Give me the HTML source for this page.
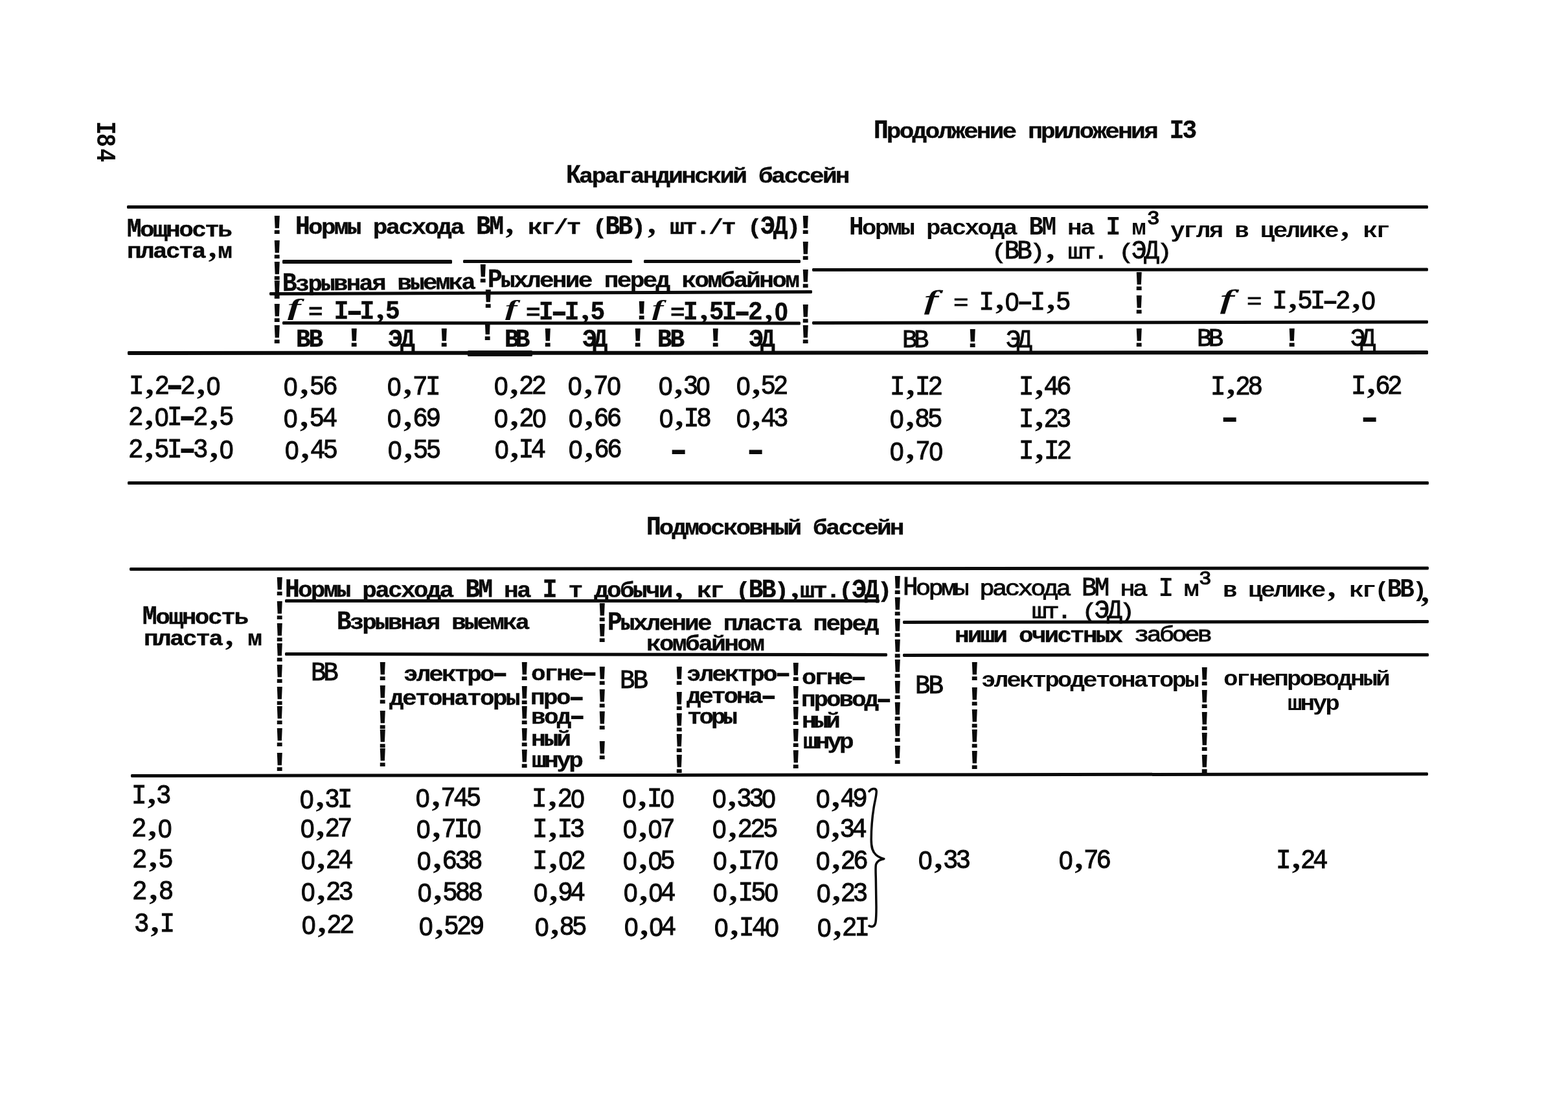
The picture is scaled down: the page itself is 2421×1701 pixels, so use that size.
<!DOCTYPE html>
<html lang="ru"><head><meta charset="utf-8"><title>Продолжение приложения 13</title>
<style>
html,body{margin:0;padding:0;background:#fff}
body{width:2421px;height:1701px;position:relative;overflow:hidden}
.t{position:absolute;white-space:pre;font-family:"Liberation Mono",monospace;font-size:36px;line-height:1;color:#0a0a0a;-webkit-text-stroke-color:#0a0a0a;font-weight:400;--ky:1.17;--sx:1.09;--rot:0deg;transform:rotate(var(--rot)) scaleX(var(--sx));transform-origin:0 76.61%}
.b{font-weight:700}
.u,.z,.k{display:inline-block;transform-origin:50% 76.61%}
.u,.z{transform:scaleY(var(--ky))}
.z,.k{width:var(--p);letter-spacing:0;line-height:0}
.z{font-family:"Liberation Sans",sans-serif;font-size:0.985em;text-indent:0.0265em}
.b .z{text-indent:0.0273em}
.k{font-family:"Liberation Serif",serif;font-weight:700;font-size:1.36em;text-indent:0.1081em;position:relative;top:-0.5px;-webkit-text-stroke-width:0}
.h{display:inline-block;width:var(--p);letter-spacing:0;font-weight:700;position:relative;top:-1.4px;transform:scale(1.8,1.55);transform-origin:0.3em 0.507em;-webkit-text-stroke-width:0}
.h2 .h{transform:scale(1.75,1.3);top:-0.5px}
.m .h{transform:scale(1.7,1.15);top:-0.5px}
.e{font-size:43px;--sx:1.3}
.f{font-family:"Liberation Serif",serif;font-style:italic}
.t.pg{transform:rotate(90deg);transform-origin:50% 50%}
.r{position:absolute;background:#0a0a0a;border-radius:1.5px}
</style></head>
<body>
<div class="t b pg" style="left:127.7px;top:199px;width:60px;height:36px;text-align:center;letter-spacing:2.2px;font-size:35px;--ky:1.2"><span class="u"><span style="letter-spacing:-2px">I</span>84</span></div>
<div class="t b" style="left:1349.08px;top:186.95px;letter-spacing:-2.518px;--p:17.885px;font-size:34px;--ky:1.2;--sx:1.11;-webkit-text-stroke-width:0.4px"><span class="u">П</span>родолжение приложения <span class="u">I3</span></div>
<div class="t b" style="left:874.28px;top:256.15px;letter-spacing:-2.570px;--p:17.833px;font-size:34px;--ky:1.2;--sx:1.11;-webkit-text-stroke-width:0.4px"><span class="u">К</span>арагандинский бассейн</div>
<div class="t b" style="left:997.58px;top:799.25px;letter-spacing:-2.589px;--p:17.814px;font-size:34px;--ky:1.2;--sx:1.11;-webkit-text-stroke-width:0.4px"><span class="u">П</span>одмосковный бассейн</div>
<div class="r" style="left:195.5px;top:316.55px;width:2009.0px;height:5.3px"></div>
<div class="r" style="left:436.1px;top:401.45px;width:261.9px;height:5.1px"></div>
<div class="r" style="left:715.0px;top:401.25px;width:261.0px;height:5.1px"></div>
<div class="r" style="left:994.0px;top:401.15px;width:242.0px;height:5.1px"></div>
<div class="r" style="left:1254.0px;top:414.15px;width:950.8px;height:4.9px;transform:rotate(-0.0362deg);transform-origin:0 50%"></div>
<div class="r" style="left:416.3px;top:451.00px;width:837.7px;height:4.6px;transform:rotate(-0.1983deg);transform-origin:0 50%"></div>
<div class="r" style="left:436.1px;top:495.65px;width:799.9px;height:5.3px;transform:rotate(0.0287deg);transform-origin:0 50%"></div>
<div class="r" style="left:1254.0px;top:496.35px;width:950.5px;height:4.9px;transform:rotate(-0.0904deg);transform-origin:0 50%"></div>
<div class="r" style="left:197.0px;top:542.45px;width:2007.5px;height:5.5px;transform:rotate(-0.0257deg);transform-origin:0 50%"></div>
<div class="r" style="left:722.0px;top:540.50px;width:100.0px;height:9px"></div>
<div class="r" style="left:197.0px;top:742.60px;width:2009.0px;height:5.2px"></div>
<div class="t b" style="left:196.20px;top:339.35px;letter-spacing:-2.357px;--p:18.046px;font-size:34px;--ky:1.2;--sx:1.11;-webkit-text-stroke-width:0.4px"><span class="u">М</span>ощность</div>
<div class="t b" style="left:196.48px;top:371.65px;letter-spacing:-2.363px;--p:18.041px;font-size:34px;--ky:1.2;--sx:1.11;-webkit-text-stroke-width:0.4px">пласта<span class="k">,</span>м</div>
<div class="t b" style="left:455.98px;top:334.95px;letter-spacing:-2.438px;--p:17.966px;font-size:34px;--ky:1.2;--sx:1.11;-webkit-text-stroke-width:0.4px"><span class="u">Н</span>ормы расхода <span class="u">ВМ</span><span class="k">,</span> кг/т (<span class="u">ВВ</span>)<span class="k">,</span> шт./т (<span class="u">ЭД</span>)</div>
<div class="t b" style="left:435.90px;top:422.65px;letter-spacing:-2.632px;--p:17.772px;font-size:34px;--ky:1.2;--sx:1.11;--rot:-0.639deg;-webkit-text-stroke-width:0.4px"><span class="u">В</span>зрывная выемка</div>
<div class="t b" style="left:752.72px;top:417.35px;letter-spacing:-2.415px;--p:17.988px;font-size:34px;--ky:1.2;--sx:1.11;-webkit-text-stroke-width:0.4px"><span class="u">Р</span>ыхление перед комбайном</div>
<div class="t f b" style="left:444.00px;top:457.25px;font-size:35.66px;--sx:1.753">f</div>
<div class="t b" style="left:476.36px;top:466.45px;letter-spacing:-2.517px;--p:17.886px;font-size:34px;--ky:1.2;--sx:1.11;-webkit-text-stroke-width:0.4px">= <span class="u">I</span><span class="h">-</span><span class="u">I</span><span class="k">,</span><span class="u">5</span></div>
<div class="t f b" style="left:779.60px;top:460.22px;font-size:32.82px;--sx:1.714">f</div>
<div class="t b" style="left:811.96px;top:467.35px;letter-spacing:-2.453px;--p:17.950px;font-size:34px;--ky:1.2;--sx:1.11;-webkit-text-stroke-width:0.4px">=<span class="u">I</span><span class="h">-</span><span class="u">I</span><span class="k">,</span><span class="u">5</span></div>
<div class="t f b" style="left:1007.00px;top:460.22px;font-size:32.82px;--sx:1.611">f</div>
<div class="t b" style="left:1035.36px;top:467.35px;letter-spacing:-2.392px;--p:18.012px;font-size:34px;--ky:1.2;--sx:1.11;-webkit-text-stroke-width:0.4px">=<span class="u">I</span><span class="k">,</span><span class="u">5I</span><span class="h">-</span><span class="u">2</span><span class="k">,</span><span class="z">0</span></div>
<div class="t b" style="left:457.30px;top:508.55px;letter-spacing:-2.903px;--p:17.500px;font-size:34px;--ky:1.15;--sx:1.11;-webkit-text-stroke-width:0.4px"><span class="u">ВВ</span></div>
<div class="t b" style="left:598.57px;top:508.55px;letter-spacing:-3.292px;--p:17.111px;font-size:34px;--ky:1.15;--sx:1.11;-webkit-text-stroke-width:0.4px"><span class="u">ЭД</span></div>
<div class="t b" style="left:778.70px;top:508.55px;letter-spacing:-5.335px;--p:15.068px;font-size:34px;--ky:1.15;--sx:1.11;-webkit-text-stroke-width:0.4px"><span class="u">ВВ</span></div>
<div class="t b" style="left:898.97px;top:508.55px;letter-spacing:-5.635px;--p:14.769px;font-size:34px;--ky:1.15;--sx:1.11;-webkit-text-stroke-width:0.4px"><span class="u">ЭД</span></div>
<div class="t b" style="left:1015.10px;top:508.55px;letter-spacing:-2.903px;--p:17.500px;font-size:34px;--ky:1.15;--sx:1.11;-webkit-text-stroke-width:0.4px"><span class="u">ВВ</span></div>
<div class="t b" style="left:1156.17px;top:508.55px;letter-spacing:-4.283px;--p:16.120px;font-size:34px;--ky:1.15;--sx:1.11;-webkit-text-stroke-width:0.4px"><span class="u">ЭД</span></div>
<div class="t e b" style="left:411.21px;top:328.26px">!</div>
<div class="t e b" style="left:411.21px;top:365.86px">!</div>
<div class="t e b" style="left:411.21px;top:399.46px">!</div>
<div class="t e b" style="left:411.21px;top:464.26px">!</div>
<div class="t e b" style="left:411.21px;top:497.06px">!</div>
<div class="t e b" style="left:411.41px;top:427.56px">!</div>
<div class="t e b" style="left:1227.21px;top:328.46px">!</div>
<div class="t e b" style="left:1227.21px;top:367.66px">!</div>
<div class="t e b" style="left:1227.21px;top:410.76px">!</div>
<div class="t e b" style="left:1227.21px;top:465.06px">!</div>
<div class="t e b" style="left:1227.21px;top:497.06px">!</div>
<div class="t e b" style="left:728.91px;top:403.06px">!</div>
<div class="t e b" style="left:736.81px;top:442.06px">!</div>
<div class="t e b" style="left:735.71px;top:492.06px">!</div>
<div class="t e b" style="left:974.21px;top:460.46px">!</div>
<div class="t e b" style="left:530.31px;top:502.06px">!</div>
<div class="t e b" style="left:668.81px;top:502.06px">!</div>
<div class="t e b" style="left:829.21px;top:502.06px">!</div>
<div class="t e b" style="left:968.21px;top:502.06px">!</div>
<div class="t e b" style="left:1088.21px;top:502.06px">!</div>
<div class="t b" style="left:1311.46px;top:336.25px;letter-spacing:-2.540px;--p:17.863px;font-size:34px;--ky:1.2;--sx:1.11"><span class="u">Н</span>ормы расхода <span class="u">ВМ</span> на <span class="u">I</span> м</div>
<div class="t" style="left:1770.51px;top:325.68px;letter-spacing:0.000px;--p:15.603px;font-size:26px;--ky:1.12;--sx:1.25;-webkit-text-stroke-width:1.2px"><span class="u">3</span></div>
<div class="t b" style="left:1807.00px;top:339.75px;letter-spacing:-2.536px;--p:17.867px;font-size:34px;--ky:1.2;--sx:1.11">угля в целике<span class="k">,</span> кг</div>
<div class="t m" style="left:1531.29px;top:373.45px;letter-spacing:-3.340px;--p:17.063px;font-size:34px;--ky:1.2;--sx:1.15;-webkit-text-stroke-width:0.9px">(<span class="u">ВВ</span>)<span class="k">,</span> шт. (<span class="u">ЭД</span>)</div>
<div class="t f" style="left:1426.69px;top:443.69px;font-size:39.80px;--sx:1.809;-webkit-text-stroke-width:0.9px">f</div>
<div class="t m" style="left:1471.60px;top:451.65px;letter-spacing:-3.241px;--p:17.163px;font-size:34px;--ky:1.2;--sx:1.15;-webkit-text-stroke-width:0.9px">= <span class="u">I</span><span class="k">,</span><span class="z">0</span><span class="h">-</span><span class="u">I</span><span class="k">,</span><span class="u">5</span></div>
<div class="t f" style="left:1884.49px;top:442.28px;font-size:39.91px;--sx:1.804;-webkit-text-stroke-width:0.9px">f</div>
<div class="t m" style="left:1925.30px;top:450.35px;letter-spacing:-3.387px;--p:17.017px;font-size:34px;--ky:1.2;--sx:1.15;-webkit-text-stroke-width:0.9px">= <span class="u">I</span><span class="k">,</span><span class="u">5I</span><span class="h">-</span><span class="u">2</span><span class="k">,</span><span class="z">0</span></div>
<div class="t m" style="left:1393.42px;top:509.55px;letter-spacing:-4.695px;--p:15.708px;font-size:34px;--ky:1.15;--sx:1.15;-webkit-text-stroke-width:0.9px"><span class="u">ВВ</span></div>
<div class="t m" style="left:1552.86px;top:509.55px;letter-spacing:-5.416px;--p:14.987px;font-size:34px;--ky:1.15;--sx:1.15;-webkit-text-stroke-width:0.9px"><span class="u">ЭД</span></div>
<div class="t m" style="left:1848.42px;top:508.45px;letter-spacing:-5.043px;--p:15.360px;font-size:34px;--ky:1.15;--sx:1.15;-webkit-text-stroke-width:0.9px"><span class="u">ВВ</span></div>
<div class="t m" style="left:2085.36px;top:508.45px;letter-spacing:-6.808px;--p:13.596px;font-size:34px;--ky:1.15;--sx:1.15;-webkit-text-stroke-width:0.9px"><span class="u">ЭД</span></div>
<div class="t e b" style="left:1741.51px;top:414.66px">!</div>
<div class="t e b" style="left:1741.51px;top:451.06px">!</div>
<div class="t e b" style="left:1741.51px;top:502.06px">!</div>
<div class="t e b" style="left:1485.21px;top:502.56px">!</div>
<div class="t e b" style="left:1978.21px;top:502.06px">!</div>
<div class="t" style="left:198.52px;top:581.12px;letter-spacing:-3.460px;--p:18.143px;-webkit-text-stroke-width:0.9px"><span class="u">I</span><span class="k">,</span><span class="u">2</span><span class="h">-</span><span class="u">2</span><span class="k">,</span><span class="z">0</span></div>
<div class="t" style="left:197.63px;top:629.32px;letter-spacing:-3.265px;--p:18.338px;-webkit-text-stroke-width:0.9px"><span class="u">2</span><span class="k">,</span><span class="z">0</span><span class="u">I</span><span class="h">-</span><span class="u">2</span><span class="k">,</span><span class="u">5</span></div>
<div class="t" style="left:198.43px;top:679.32px;letter-spacing:-3.249px;--p:18.354px;-webkit-text-stroke-width:0.9px"><span class="u">2</span><span class="k">,</span><span class="u">5I</span><span class="h">-</span><span class="u">3</span><span class="k">,</span><span class="z">0</span></div>
<div class="t" style="left:437.21px;top:581.52px;letter-spacing:-2.859px;--p:18.745px;-webkit-text-stroke-width:0.9px"><span class="z">0</span><span class="k">,</span><span class="u">56</span></div>
<div class="t" style="left:437.21px;top:631.12px;letter-spacing:-3.029px;--p:18.575px;-webkit-text-stroke-width:0.9px"><span class="z">0</span><span class="k">,</span><span class="u">54</span></div>
<div class="t" style="left:438.91px;top:680.22px;letter-spacing:-3.396px;--p:18.207px;-webkit-text-stroke-width:0.9px"><span class="z">0</span><span class="k">,</span><span class="u">45</span></div>
<div class="t" style="left:596.81px;top:581.52px;letter-spacing:-3.268px;--p:18.335px;-webkit-text-stroke-width:0.9px"><span class="z">0</span><span class="k">,</span><span class="u">7I</span></div>
<div class="t" style="left:597.41px;top:631.12px;letter-spacing:-3.112px;--p:18.492px;-webkit-text-stroke-width:0.9px"><span class="z">0</span><span class="k">,</span><span class="u">69</span></div>
<div class="t" style="left:598.01px;top:680.22px;letter-spacing:-3.366px;--p:18.238px;-webkit-text-stroke-width:0.9px"><span class="z">0</span><span class="k">,</span><span class="u">55</span></div>
<div class="t" style="left:762.31px;top:581.42px;letter-spacing:-3.736px;--p:17.867px;-webkit-text-stroke-width:0.9px"><span class="z">0</span><span class="k">,</span><span class="u">22</span></div>
<div class="t" style="left:762.31px;top:630.62px;letter-spacing:-3.542px;--p:18.062px;-webkit-text-stroke-width:0.9px"><span class="z">0</span><span class="k">,</span><span class="u">2</span><span class="z">0</span></div>
<div class="t" style="left:763.31px;top:679.02px;letter-spacing:-4.283px;--p:17.321px;-webkit-text-stroke-width:0.9px"><span class="z">0</span><span class="k">,</span><span class="u">I4</span></div>
<div class="t" style="left:875.91px;top:581.42px;letter-spacing:-3.206px;--p:18.398px;-webkit-text-stroke-width:0.9px"><span class="z">0</span><span class="k">,</span><span class="u">7</span><span class="z">0</span></div>
<div class="t" style="left:876.51px;top:630.62px;letter-spacing:-3.348px;--p:18.255px;-webkit-text-stroke-width:0.9px"><span class="z">0</span><span class="k">,</span><span class="u">66</span></div>
<div class="t" style="left:876.91px;top:679.02px;letter-spacing:-3.165px;--p:18.439px;-webkit-text-stroke-width:0.9px"><span class="z">0</span><span class="k">,</span><span class="u">66</span></div>
<div class="t" style="left:1016.11px;top:581.42px;letter-spacing:-3.848px;--p:17.756px;-webkit-text-stroke-width:0.9px"><span class="z">0</span><span class="k">,</span><span class="u">3</span><span class="z">0</span></div>
<div class="t" style="left:1016.81px;top:630.62px;letter-spacing:-3.795px;--p:17.808px;-webkit-text-stroke-width:0.9px"><span class="z">0</span><span class="k">,</span><span class="u">I8</span></div>
<div class="t" style="left:1135.51px;top:581.42px;letter-spacing:-3.920px;--p:17.684px;-webkit-text-stroke-width:0.9px"><span class="z">0</span><span class="k">,</span><span class="u">52</span></div>
<div class="t" style="left:1135.91px;top:630.62px;letter-spacing:-3.824px;--p:17.779px;-webkit-text-stroke-width:0.9px"><span class="z">0</span><span class="k">,</span><span class="u">43</span></div>
<div class="t" style="left:1373.52px;top:582.02px;letter-spacing:-3.738px;--p:17.865px;-webkit-text-stroke-width:0.9px"><span class="u">I</span><span class="k">,</span><span class="u">I2</span></div>
<div class="t" style="left:1373.21px;top:631.82px;letter-spacing:-3.549px;--p:18.054px;-webkit-text-stroke-width:0.9px"><span class="z">0</span><span class="k">,</span><span class="u">85</span></div>
<div class="t" style="left:1373.21px;top:681.72px;letter-spacing:-3.144px;--p:18.459px;-webkit-text-stroke-width:0.9px"><span class="z">0</span><span class="k">,</span><span class="u">7</span><span class="z">0</span></div>
<div class="t" style="left:1572.62px;top:582.02px;letter-spacing:-3.900px;--p:17.703px;-webkit-text-stroke-width:0.9px"><span class="u">I</span><span class="k">,</span><span class="u">46</span></div>
<div class="t" style="left:1572.62px;top:631.52px;letter-spacing:-3.918px;--p:17.686px;-webkit-text-stroke-width:0.9px"><span class="u">I</span><span class="k">,</span><span class="u">23</span></div>
<div class="t" style="left:1572.62px;top:681.22px;letter-spacing:-3.738px;--p:17.865px;-webkit-text-stroke-width:0.9px"><span class="u">I</span><span class="k">,</span><span class="u">I2</span></div>
<div class="t" style="left:1868.92px;top:581.92px;letter-spacing:-4.041px;--p:17.562px;-webkit-text-stroke-width:0.9px"><span class="u">I</span><span class="k">,</span><span class="u">28</span></div>
<div class="t" style="left:2085.92px;top:580.82px;letter-spacing:-4.503px;--p:17.101px;-webkit-text-stroke-width:0.9px"><span class="u">I</span><span class="k">,</span><span class="u">62</span></div>
<div class="t" style="left:1036.19px;top:681.72px;letter-spacing:0.000px;--p:21.604px;-webkit-text-stroke-width:0.9px"><span class="h">-</span></div>
<div class="t" style="left:1154.89px;top:681.72px;letter-spacing:0.000px;--p:21.604px;-webkit-text-stroke-width:0.9px"><span class="h">-</span></div>
<div class="t" style="left:1886.59px;top:631.42px;letter-spacing:0.000px;--p:21.604px;-webkit-text-stroke-width:0.9px"><span class="h">-</span></div>
<div class="t" style="left:2103.29px;top:631.32px;letter-spacing:0.000px;--p:21.604px;-webkit-text-stroke-width:0.9px"><span class="h">-</span></div>
<div class="r" style="left:199.6px;top:876.20px;width:2005.8px;height:5.4px;transform:rotate(-0.0457deg);transform-origin:0 50%"></div>
<div class="r" style="left:440.0px;top:925.30px;width:917.5px;height:4.6px"></div>
<div class="r" style="left:1393.6px;top:957.55px;width:811.8px;height:4.9px;transform:rotate(-0.0706deg);transform-origin:0 50%"></div>
<div class="r" style="left:440.0px;top:1006.90px;width:930.0px;height:5px;transform:rotate(0.0739deg);transform-origin:0 50%"></div>
<div class="r" style="left:1393.6px;top:1009.35px;width:811.8px;height:4.9px;transform:rotate(-0.0565deg);transform-origin:0 50%"></div>
<div class="r" style="left:202.0px;top:1194.80px;width:2003.4px;height:5.4px;transform:rotate(-0.0772deg);transform-origin:0 50%"></div>
<div class="t b" style="left:440.28px;top:895.25px;letter-spacing:-2.491px;--p:17.912px;font-size:34px;--ky:1.2;--sx:1.11;--rot:0.068deg;-webkit-text-stroke-width:0.4px"><span class="u">Н</span>ормы расхода <span class="u">ВМ</span> на <span class="u">I</span> т добычи<span class="k">,</span> кг (<span class="u">ВВ</span>)<span class="k">,</span>шт.(<span class="u">ЭД</span>)</div>
<div class="t b" style="left:219.70px;top:936.65px;letter-spacing:-2.190px;--p:18.213px;font-size:34px;--ky:1.2;--sx:1.11;-webkit-text-stroke-width:0.4px"><span class="u">М</span>ощность</div>
<div class="t b" style="left:222.08px;top:970.45px;letter-spacing:-2.354px;--p:18.049px;font-size:34px;--ky:1.2;--sx:1.11;-webkit-text-stroke-width:0.4px">пласта<span class="k">,</span> м</div>
<div class="t b" style="left:520.00px;top:945.25px;letter-spacing:-2.670px;--p:17.733px;font-size:34px;--ky:1.2;--sx:1.11;-webkit-text-stroke-width:0.4px"><span class="u">В</span>зрывная выемка</div>
<div class="t b" style="left:938.02px;top:946.15px;letter-spacing:-2.521px;--p:17.882px;font-size:34px;--ky:1.2;--sx:1.11;--rot:0.137deg;-webkit-text-stroke-width:0.4px"><span class="u">Р</span>ыхление пласта перед</div>
<div class="t b" style="left:998.08px;top:978.45px;letter-spacing:-2.354px;--p:18.049px;font-size:34px;--ky:1.2;--sx:1.11;-webkit-text-stroke-width:0.4px">комбайном</div>
<div class="t m" style="left:1393.62px;top:892.35px;letter-spacing:-3.255px;--p:17.148px;font-size:34px;--ky:1.2;--sx:1.15;--rot:0.202deg;-webkit-text-stroke-width:0.9px"><span class="u">Н</span>ормы расхода <span class="u">ВМ</span> на <span class="u">I</span> м</div>
<div class="t" style="left:1850.76px;top:881.88px;letter-spacing:0.000px;--p:15.603px;font-size:26px;--ky:1.1;--sx:1.25;-webkit-text-stroke-width:1px"><span class="u">3</span></div>
<div class="t b" style="left:1888.46px;top:895.25px;letter-spacing:-2.816px;--p:17.588px;font-size:34px;--ky:1.2;--sx:1.11">в целике<span class="k">,</span> кг(<span class="u">ВВ</span>)</div>
<div class="t m" style="left:2187.91px;top:903.45px;letter-spacing:0.000px;--p:20.403px;font-size:34px;--ky:1.2;--sx:1.15;-webkit-text-stroke-width:0.9px"><span class="k">,</span></div>
<div class="t m" style="left:1593.37px;top:928.45px;letter-spacing:-3.569px;--p:16.834px;font-size:34px;--ky:1.2;--sx:1.15;-webkit-text-stroke-width:0.9px">шт. (<span class="u">ЭД</span>)</div>
<div class="t b" style="left:1473.58px;top:964.55px;letter-spacing:-2.575px;--p:17.828px;font-size:34px;--ky:1.2;--sx:1.11;-webkit-text-stroke-width:0.4px">ниши очистных</div>
<div class="t m" style="left:1751.48px;top:963.95px;letter-spacing:-3.439px;--p:16.964px;font-size:34px;--ky:1.2;--sx:1.15;-webkit-text-stroke-width:0.9px">забоев</div>
<div class="t m" style="left:480.42px;top:1023.75px;letter-spacing:-3.565px;--p:16.838px;font-size:34px;--ky:1.2;--sx:1.15;-webkit-text-stroke-width:0.9px"><span class="u">ВВ</span></div>
<div class="t b h2" style="left:622.54px;top:1024.65px;letter-spacing:-2.698px;--p:17.705px;font-size:34px;--ky:1.2;--sx:1.11;-webkit-text-stroke-width:0.4px">электро<span class="h">-</span></div>
<div class="t b" style="left:600.66px;top:1062.15px;letter-spacing:-2.376px;--p:18.027px;font-size:34px;--ky:1.2;--sx:1.11;-webkit-text-stroke-width:0.4px">детонаторы</div>
<div class="t b h2" style="left:819.93px;top:1023.85px;letter-spacing:-2.704px;--p:17.699px;font-size:34px;--ky:1.2;--sx:1.11;-webkit-text-stroke-width:0.4px">огне<span class="h">-</span></div>
<div class="t b h2" style="left:819.08px;top:1061.15px;letter-spacing:-2.436px;--p:17.968px;font-size:34px;--ky:1.2;--sx:1.11;-webkit-text-stroke-width:0.4px">про<span class="h">-</span></div>
<div class="t b h2" style="left:820.38px;top:1090.95px;letter-spacing:-2.466px;--p:17.938px;font-size:34px;--ky:1.2;--sx:1.11;-webkit-text-stroke-width:0.4px">вод<span class="h">-</span></div>
<div class="t b" style="left:820.38px;top:1125.35px;letter-spacing:-2.703px;--p:17.700px;font-size:34px;--ky:1.2;--sx:1.11;-webkit-text-stroke-width:0.4px">ный</div>
<div class="t b" style="left:821.47px;top:1157.75px;letter-spacing:-3.211px;--p:17.193px;font-size:34px;--ky:1.2;--sx:1.11;-webkit-text-stroke-width:0.4px">шнур</div>
<div class="t m" style="left:957.42px;top:1035.75px;letter-spacing:-2.608px;--p:17.795px;font-size:34px;--ky:1.2;--sx:1.15;-webkit-text-stroke-width:0.9px"><span class="u">ВВ</span></div>
<div class="t b h2" style="left:1060.14px;top:1024.75px;letter-spacing:-2.698px;--p:17.705px;font-size:34px;--ky:1.2;--sx:1.11;-webkit-text-stroke-width:0.4px">электро<span class="h">-</span></div>
<div class="t b h2" style="left:1060.46px;top:1059.35px;letter-spacing:-3.129px;--p:17.274px;font-size:34px;--ky:1.2;--sx:1.11;-webkit-text-stroke-width:0.4px">детона<span class="h">-</span></div>
<div class="t b" style="left:1061.19px;top:1091.45px;letter-spacing:-3.779px;--p:16.625px;font-size:34px;--ky:1.2;--sx:1.11;-webkit-text-stroke-width:0.4px">торы</div>
<div class="t b h2" style="left:1238.03px;top:1030.15px;letter-spacing:-3.267px;--p:17.136px;font-size:34px;--ky:1.2;--sx:1.11;-webkit-text-stroke-width:0.4px">огне<span class="h">-</span></div>
<div class="t b h2" style="left:1237.18px;top:1064.15px;letter-spacing:-2.846px;--p:17.557px;font-size:34px;--ky:1.2;--sx:1.11;-webkit-text-stroke-width:0.4px">провод<span class="h">-</span></div>
<div class="t b" style="left:1238.48px;top:1096.65px;letter-spacing:-3.784px;--p:16.619px;font-size:34px;--ky:1.2;--sx:1.11;-webkit-text-stroke-width:0.4px">ный</div>
<div class="t b" style="left:1239.57px;top:1129.15px;letter-spacing:-3.601px;--p:16.802px;font-size:34px;--ky:1.2;--sx:1.11;-webkit-text-stroke-width:0.4px">шнур</div>
<div class="t m" style="left:1413.22px;top:1044.35px;letter-spacing:-2.521px;--p:17.882px;font-size:34px;--ky:1.2;--sx:1.15;-webkit-text-stroke-width:0.9px"><span class="u">ВВ</span></div>
<div class="t b" style="left:1514.52px;top:1033.95px;letter-spacing:-2.714px;--p:17.689px;font-size:34px;--ky:1.2;--sx:1.11">электродетонаторы</div>
<div class="t b" style="left:1888.80px;top:1032.05px;letter-spacing:-2.754px;--p:17.649px;font-size:34px;--ky:1.2;--sx:1.11">огнепроводный</div>
<div class="t b" style="left:1987.84px;top:1069.55px;letter-spacing:-2.897px;--p:17.506px;font-size:34px;--ky:1.2;--sx:1.11">шнур</div>
<div class="t e b" style="left:415.41px;top:886.06px">!</div>
<div class="t e b" style="left:415.41px;top:923.06px">!</div>
<div class="t e b" style="left:415.41px;top:957.06px">!</div>
<div class="t e b" style="left:415.41px;top:987.56px">!</div>
<div class="t e b" style="left:415.41px;top:1021.06px">!</div>
<div class="t e b" style="left:415.41px;top:1054.56px">!</div>
<div class="t e b" style="left:415.41px;top:1085.06px">!</div>
<div class="t e b" style="left:415.41px;top:1119.06px">!</div>
<div class="t e b" style="left:415.41px;top:1157.06px">!</div>
<div class="t e b" style="left:574.21px;top:1016.66px">!</div>
<div class="t e b" style="left:574.21px;top:1053.06px">!</div>
<div class="t e b" style="left:574.21px;top:1092.06px">!</div>
<div class="t e b" style="left:574.21px;top:1121.06px">!</div>
<div class="t e b" style="left:574.21px;top:1150.06px">!</div>
<div class="t e b" style="left:793.21px;top:1016.56px">!</div>
<div class="t e b" style="left:793.21px;top:1054.06px">!</div>
<div class="t e b" style="left:793.21px;top:1085.06px">!</div>
<div class="t e b" style="left:793.21px;top:1119.06px">!</div>
<div class="t e b" style="left:793.21px;top:1152.06px">!</div>
<div class="t e b" style="left:913.41px;top:926.06px">!</div>
<div class="t e b" style="left:913.41px;top:958.36px">!</div>
<div class="t e b" style="left:913.41px;top:1023.56px">!</div>
<div class="t e b" style="left:913.41px;top:1058.56px">!</div>
<div class="t e b" style="left:913.41px;top:1092.56px">!</div>
<div class="t e b" style="left:913.41px;top:1139.06px">!</div>
<div class="t e b" style="left:1032.11px;top:1024.06px">!</div>
<div class="t e b" style="left:1032.11px;top:1062.56px">!</div>
<div class="t e b" style="left:1032.11px;top:1096.06px">!</div>
<div class="t e b" style="left:1032.11px;top:1128.06px">!</div>
<div class="t e b" style="left:1032.11px;top:1160.06px">!</div>
<div class="t e b" style="left:1212.01px;top:1017.86px">!</div>
<div class="t e b" style="left:1212.01px;top:1053.56px">!</div>
<div class="t e b" style="left:1212.01px;top:1085.56px">!</div>
<div class="t e b" style="left:1212.01px;top:1120.06px">!</div>
<div class="t e b" style="left:1212.01px;top:1152.56px">!</div>
<div class="t e b" style="left:1368.91px;top:884.06px">!</div>
<div class="t e b" style="left:1368.91px;top:917.06px">!</div>
<div class="t e b" style="left:1368.91px;top:950.06px">!</div>
<div class="t e b" style="left:1368.91px;top:982.06px">!</div>
<div class="t e b" style="left:1368.91px;top:1012.76px">!</div>
<div class="t e b" style="left:1368.91px;top:1046.06px">!</div>
<div class="t e b" style="left:1368.91px;top:1079.06px">!</div>
<div class="t e b" style="left:1368.91px;top:1112.06px">!</div>
<div class="t e b" style="left:1368.91px;top:1146.06px">!</div>
<div class="t e b" style="left:1487.81px;top:1016.66px">!</div>
<div class="t e b" style="left:1487.81px;top:1055.86px">!</div>
<div class="t e b" style="left:1487.81px;top:1090.06px">!</div>
<div class="t e b" style="left:1487.81px;top:1121.06px">!</div>
<div class="t e b" style="left:1487.81px;top:1153.86px">!</div>
<div class="t e b" style="left:1843.21px;top:1024.56px">!</div>
<div class="t e b" style="left:1843.21px;top:1059.86px">!</div>
<div class="t e b" style="left:1843.21px;top:1093.76px">!</div>
<div class="t e b" style="left:1843.21px;top:1126.46px">!</div>
<div class="t e b" style="left:1843.21px;top:1160.06px">!</div>
<div class="t" style="left:203.32px;top:1213.02px;letter-spacing:-4.157px;--p:17.446px;-webkit-text-stroke-width:0.9px"><span class="u">I</span><span class="k">,</span><span class="u">3</span></div>
<div class="t" style="left:202.73px;top:1263.92px;letter-spacing:-3.235px;--p:18.369px;-webkit-text-stroke-width:0.9px"><span class="u">2</span><span class="k">,</span><span class="z">0</span></div>
<div class="t" style="left:203.73px;top:1311.92px;letter-spacing:-3.153px;--p:18.450px;-webkit-text-stroke-width:0.9px"><span class="u">2</span><span class="k">,</span><span class="u">5</span></div>
<div class="t" style="left:204.43px;top:1361.22px;letter-spacing:-2.880px;--p:18.723px;-webkit-text-stroke-width:0.9px"><span class="u">2</span><span class="k">,</span><span class="u">8</span></div>
<div class="t" style="left:206.64px;top:1411.22px;letter-spacing:-3.469px;--p:18.134px;-webkit-text-stroke-width:0.9px"><span class="u">3</span><span class="k">,</span><span class="u">I</span></div>
<div class="t" style="left:462.11px;top:1218.92px;letter-spacing:-3.574px;--p:18.029px;-webkit-text-stroke-width:0.9px"><span class="z">0</span><span class="k">,</span><span class="u">3I</span></div>
<div class="t" style="left:463.11px;top:1263.92px;letter-spacing:-3.954px;--p:17.649px;-webkit-text-stroke-width:0.9px"><span class="z">0</span><span class="k">,</span><span class="u">27</span></div>
<div class="t" style="left:464.11px;top:1313.42px;letter-spacing:-3.885px;--p:17.719px;-webkit-text-stroke-width:0.9px"><span class="z">0</span><span class="k">,</span><span class="u">24</span></div>
<div class="t" style="left:464.11px;top:1362.42px;letter-spacing:-3.733px;--p:17.871px;-webkit-text-stroke-width:0.9px"><span class="z">0</span><span class="k">,</span><span class="u">23</span></div>
<div class="t" style="left:465.11px;top:1412.72px;letter-spacing:-3.584px;--p:18.020px;-webkit-text-stroke-width:0.9px"><span class="z">0</span><span class="k">,</span><span class="u">22</span></div>
<div class="t" style="left:641.31px;top:1217.42px;letter-spacing:-3.544px;--p:18.059px;-webkit-text-stroke-width:0.9px"><span class="z">0</span><span class="k">,</span><span class="u">745</span></div>
<div class="t" style="left:642.41px;top:1265.12px;letter-spacing:-3.631px;--p:17.973px;-webkit-text-stroke-width:0.9px"><span class="z">0</span><span class="k">,</span><span class="u">7I</span><span class="z">0</span></div>
<div class="t" style="left:643.11px;top:1313.82px;letter-spacing:-3.499px;--p:18.104px;-webkit-text-stroke-width:0.9px"><span class="z">0</span><span class="k">,</span><span class="u">638</span></div>
<div class="t" style="left:644.11px;top:1362.82px;letter-spacing:-3.614px;--p:17.989px;-webkit-text-stroke-width:0.9px"><span class="z">0</span><span class="k">,</span><span class="u">588</span></div>
<div class="t" style="left:645.51px;top:1415.02px;letter-spacing:-3.560px;--p:18.043px;-webkit-text-stroke-width:0.9px"><span class="z">0</span><span class="k">,</span><span class="u">529</span></div>
<div class="t" style="left:820.92px;top:1217.72px;letter-spacing:-3.483px;--p:18.121px;-webkit-text-stroke-width:0.9px"><span class="u">I</span><span class="k">,</span><span class="u">2</span><span class="z">0</span></div>
<div class="t" style="left:822.12px;top:1265.12px;letter-spacing:-3.918px;--p:17.686px;-webkit-text-stroke-width:0.9px"><span class="u">I</span><span class="k">,</span><span class="u">I3</span></div>
<div class="t" style="left:821.62px;top:1313.82px;letter-spacing:-3.463px;--p:18.141px;-webkit-text-stroke-width:0.9px"><span class="u">I</span><span class="k">,</span><span class="z">0</span><span class="u">2</span></div>
<div class="t" style="left:823.11px;top:1363.12px;letter-spacing:-4.038px;--p:17.566px;-webkit-text-stroke-width:0.9px"><span class="z">0</span><span class="k">,</span><span class="u">94</span></div>
<div class="t" style="left:825.11px;top:1415.82px;letter-spacing:-3.886px;--p:17.718px;-webkit-text-stroke-width:0.9px"><span class="z">0</span><span class="k">,</span><span class="u">85</span></div>
<div class="t" style="left:960.11px;top:1217.72px;letter-spacing:-3.664px;--p:17.939px;-webkit-text-stroke-width:0.9px"><span class="z">0</span><span class="k">,</span><span class="u">I</span><span class="z">0</span></div>
<div class="t" style="left:960.51px;top:1265.12px;letter-spacing:-3.863px;--p:17.741px;-webkit-text-stroke-width:0.9px"><span class="z">0</span><span class="k">,</span><span class="z">0</span><span class="u">7</span></div>
<div class="t" style="left:961.31px;top:1314.32px;letter-spacing:-3.763px;--p:17.840px;-webkit-text-stroke-width:0.9px"><span class="z">0</span><span class="k">,</span><span class="z">0</span><span class="u">5</span></div>
<div class="t" style="left:961.61px;top:1363.42px;letter-spacing:-3.824px;--p:17.780px;-webkit-text-stroke-width:0.9px"><span class="z">0</span><span class="k">,</span><span class="z">0</span><span class="u">4</span></div>
<div class="t" style="left:963.11px;top:1416.12px;letter-spacing:-3.916px;--p:17.688px;-webkit-text-stroke-width:0.9px"><span class="z">0</span><span class="k">,</span><span class="z">0</span><span class="u">4</span></div>
<div class="t" style="left:1099.01px;top:1217.72px;letter-spacing:-4.089px;--p:17.514px;-webkit-text-stroke-width:0.9px"><span class="z">0</span><span class="k">,</span><span class="u">33</span><span class="z">0</span></div>
<div class="t" style="left:1099.31px;top:1265.12px;letter-spacing:-3.453px;--p:18.151px;-webkit-text-stroke-width:0.9px"><span class="z">0</span><span class="k">,</span><span class="u">225</span></div>
<div class="t" style="left:1100.11px;top:1314.32px;letter-spacing:-3.447px;--p:18.156px;-webkit-text-stroke-width:0.9px"><span class="z">0</span><span class="k">,</span><span class="u">I7</span><span class="z">0</span></div>
<div class="t" style="left:1100.11px;top:1363.42px;letter-spacing:-3.447px;--p:18.156px;-webkit-text-stroke-width:0.9px"><span class="z">0</span><span class="k">,</span><span class="u">I5</span><span class="z">0</span></div>
<div class="t" style="left:1102.11px;top:1416.62px;letter-spacing:-3.654px;--p:17.950px;-webkit-text-stroke-width:0.9px"><span class="z">0</span><span class="k">,</span><span class="u">I4</span><span class="z">0</span></div>
<div class="t" style="left:1259.01px;top:1218.12px;letter-spacing:-4.090px;--p:17.513px;-webkit-text-stroke-width:0.9px"><span class="z">0</span><span class="k">,</span><span class="u">49</span></div>
<div class="t" style="left:1259.31px;top:1265.12px;letter-spacing:-4.405px;--p:17.199px;-webkit-text-stroke-width:0.9px"><span class="z">0</span><span class="k">,</span><span class="u">34</span></div>
<div class="t" style="left:1259.31px;top:1314.32px;letter-spacing:-3.776px;--p:17.827px;-webkit-text-stroke-width:0.9px"><span class="z">0</span><span class="k">,</span><span class="u">26</span></div>
<div class="t" style="left:1259.71px;top:1363.92px;letter-spacing:-4.252px;--p:17.351px;-webkit-text-stroke-width:0.9px"><span class="z">0</span><span class="k">,</span><span class="u">23</span></div>
<div class="t" style="left:1260.51px;top:1417.42px;letter-spacing:-3.727px;--p:17.876px;-webkit-text-stroke-width:0.9px"><span class="z">0</span><span class="k">,</span><span class="u">2I</span></div>
<div class="t" style="left:1417.11px;top:1313.42px;letter-spacing:-3.671px;--p:17.932px;-webkit-text-stroke-width:0.9px"><span class="z">0</span><span class="k">,</span><span class="u">33</span></div>
<div class="t" style="left:1633.91px;top:1313.42px;letter-spacing:-3.684px;--p:17.919px;-webkit-text-stroke-width:0.9px"><span class="z">0</span><span class="k">,</span><span class="u">76</span></div>
<div class="t" style="left:1969.52px;top:1313.02px;letter-spacing:-4.162px;--p:17.442px;-webkit-text-stroke-width:0.9px"><span class="u">I</span><span class="k">,</span><span class="u">24</span></div>
<svg class="br" width="40" height="230" viewBox="1335 1210 40 230" style="position:absolute;left:1335px;top:1210px" aria-hidden="true"><path d="M1342,1221.5 C1345,1217 1352.5,1215.5 1353.2,1221 C1353.6,1227 1350.8,1236 1349.2,1246 C1346.6,1262 1345.2,1280 1345.2,1296 C1345.2,1308 1347,1314.5 1352.5,1319.5 C1356.5,1323 1360.5,1324.5 1364.8,1325.8 C1359,1326.6 1354.6,1329.2 1352.6,1334 C1351.6,1337 1352,1345 1352.3,1355 L1353,1400 C1353,1410 1352.8,1418 1352,1423.5 C1351,1429.5 1347.5,1431.8 1342,1429.2" fill="none" stroke="#0a0a0a" stroke-width="3.5" stroke-linecap="round" stroke-linejoin="round"/></svg>
</body></html>
